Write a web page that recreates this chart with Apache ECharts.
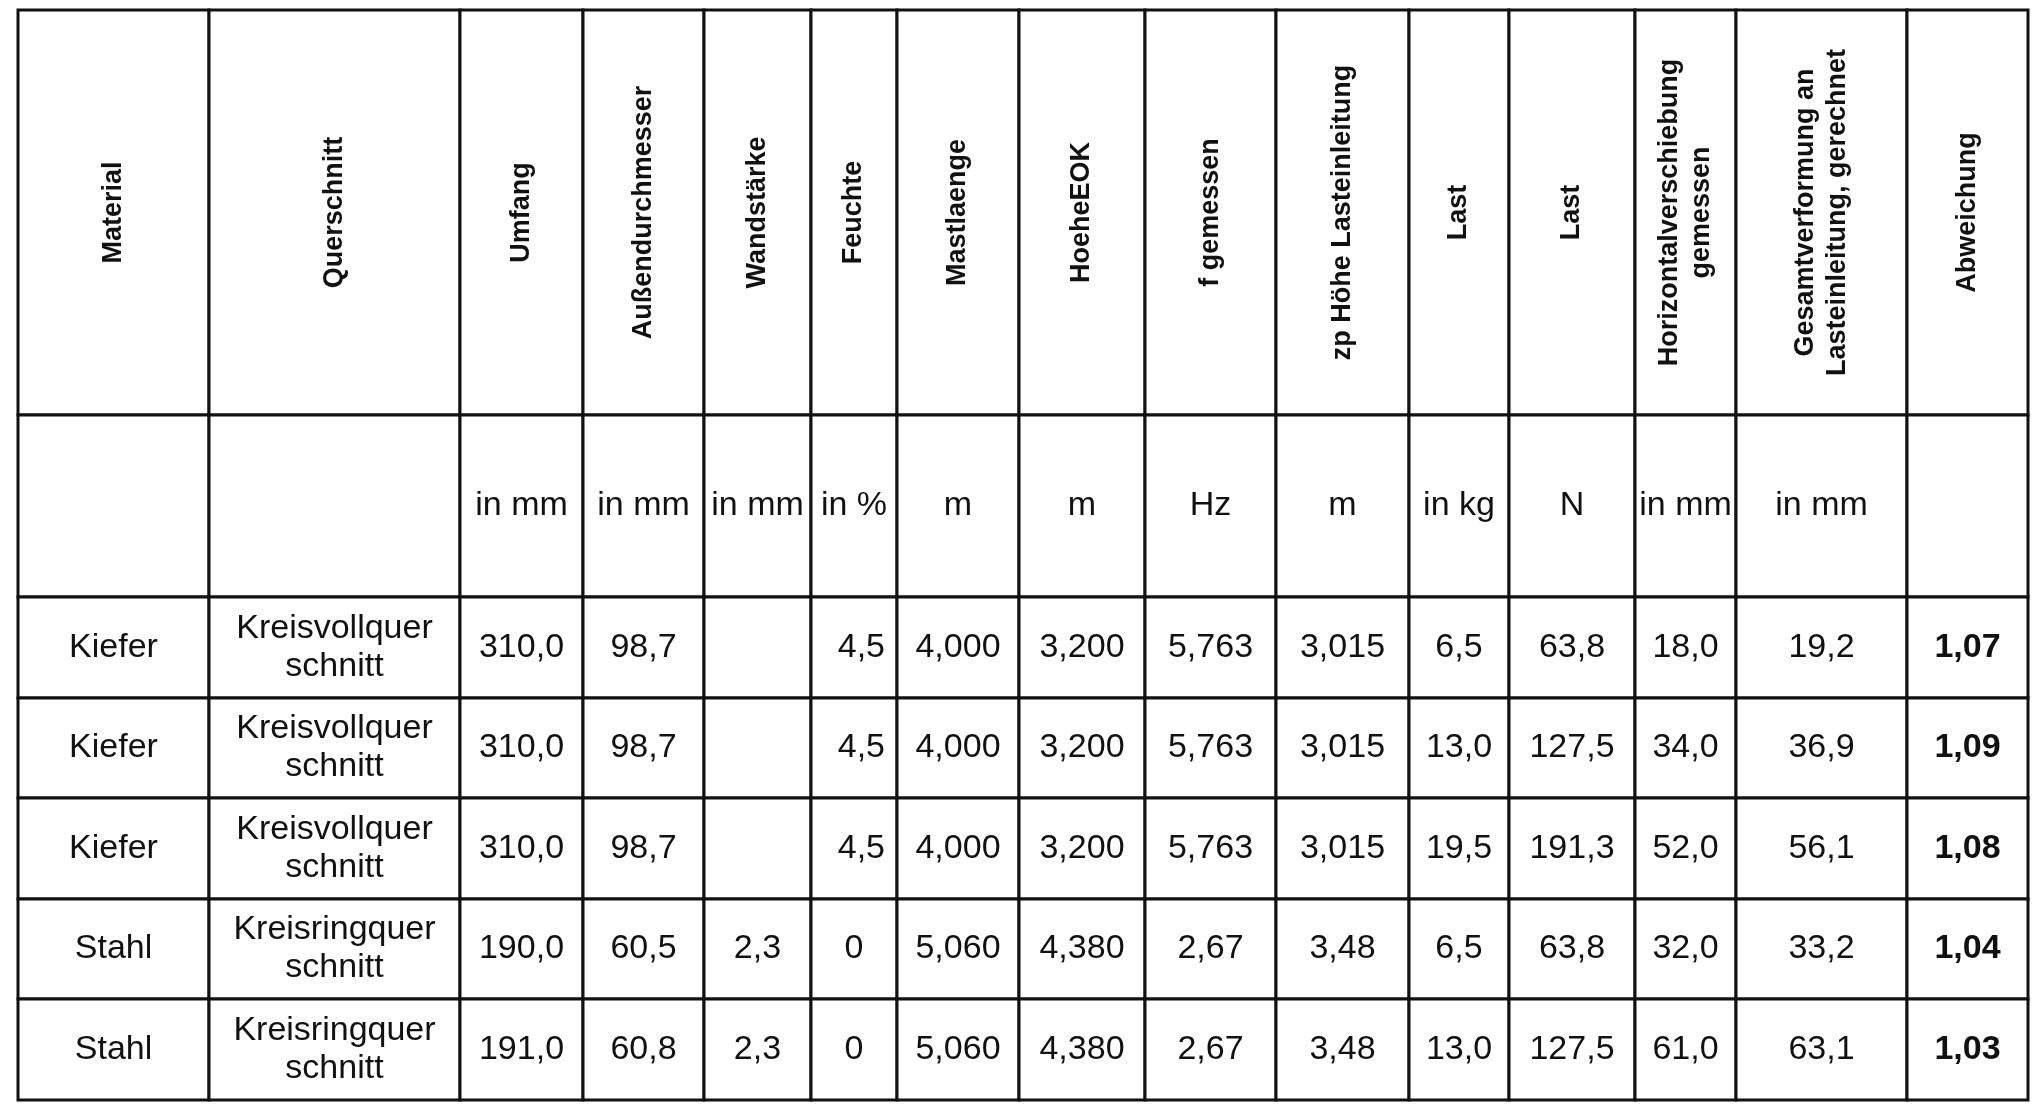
<!DOCTYPE html>
<html><head><meta charset="utf-8">
<script src="https://cdn.jsdelivr.net/npm/echarts@6/dist/echarts.min.js"></script>
<style>html,body{margin:0;background:#fff}#c{width:2035px;height:1109px}</style>
</head><body><div id="c"></div>
<script>
const headers = ["Material","Querschnitt","Umfang","Außendurchmesser","Wandstärke","Feuchte","Mastlaenge","HoeheEOK","f gemessen","zp Höhe Lasteinleitung","Last","Last","Horizontalverschiebung\ngemessen","Gesamtverformung an\nLasteinleitung, gerechnet","Abweichung"];
const units = ["","","in mm","in mm","in mm","in %","m","m","Hz","m","in kg","N","in mm","in mm",""];
const materials = ["Kiefer","Kiefer","Kiefer","Stahl","Stahl"];
const sections = ["Kreisvollquer\nschnitt","Kreisvollquer\nschnitt","Kreisvollquer\nschnitt","Kreisringquer\nschnitt","Kreisringquer\nschnitt"];
const umfang = ["310,0","310,0","310,0","190,0","191,0"];
const aussen = ["98,7","98,7","98,7","60,5","60,8"];
const wand = ["","","","2,3","2,3"];
const feuchte = ["4,5","4,5","4,5","0","0"];
const mast = ["4,000","4,000","4,000","5,060","5,060"];
const hoehe = ["3,200","3,200","3,200","4,380","4,380"];
const freq = ["5,763","5,763","5,763","2,67","2,67"];
const zp = ["3,015","3,015","3,015","3,48","3,48"];
const lastKg = ["6,5","13,0","19,5","6,5","13,0"];
const lastN = ["63,8","127,5","191,3","63,8","127,5"];
const horiz = ["18,0","34,0","52,0","32,0","61,0"];
const gesamt = ["19,2","36,9","56,1","33,2","63,1"];
const abw = ["1,07","1,09","1,08","1,04","1,03"];

// layout
const colEdges = [18,209,460,583,704,811,897,1019,1145,1276,1409,1509,1635,1736,1907,2028];
const rowEdges = [10,415,597,698,798,899,999,1100];

const bodyCols = [materials,sections,umfang,aussen,wand,feuchte,mast,hoehe,freq,zp,lastKg,lastN,horiz,gesamt,abw];
const cells = [];
for (let c = 0; c < headers.length; c++) {
  cells.push([c, 0, headers[c]]);
  cells.push([c, 1, units[c]]);
  for (let r = 0; r < materials.length; r++) cells.push([c, r + 2, bodyCols[c][r]]);
}
const chart = echarts.init(document.getElementById('c'));
chart.setOption({
  animation:false,
  grid:{left:0,right:0,top:0,bottom:0},
  xAxis:{type:'value',min:0,max:2035,show:false},
  yAxis:{type:'value',min:0,max:1109,inverse:true,show:false},
  series:[{
    type:'custom',
    data:cells,
    renderItem:function(params, api){
      const c = api.value(0), r = api.value(1);
      const txt = cells[params.dataIndex][2];
      const p0 = api.coord([colEdges[c], rowEdges[r]]);
      const p1 = api.coord([colEdges[c+1], rowEdges[r+1]]);
      const cx = (p0[0]+p1[0])/2, cy = (p0[1]+p1[1])/2;
      const children = [{
        type:'rect',
        shape:{x:p0[0],y:p0[1],width:p1[0]-p0[0],height:p1[1]-p0[1]},
        style:{fill:'#fff',stroke:'#111',lineWidth:3}
      }];
      if (r === 0) {
        children.push({type:'text',x:cx,y:cy,rotation:Math.PI/2,
          style:{text:txt,fill:'#111',font:'bold 27px "Liberation Sans", Arial, sans-serif',align:'center',verticalAlign:'middle',lineHeight:32}});
      } else {
        const rightAlign = (c === 5 && r >= 2 && txt === '4,5');
        children.push({type:'text',x:rightAlign ? p1[0]-12 : cx,y:cy,
          style:{text:txt,fill:'#111',font:(c===14?'bold ':'')+'34px "Liberation Sans", Arial, sans-serif',align:rightAlign?'right':'center',verticalAlign:'middle',lineHeight:38}});
      }
      return {type:'group',children:children};
    }
  }]
});
</script></body></html>
